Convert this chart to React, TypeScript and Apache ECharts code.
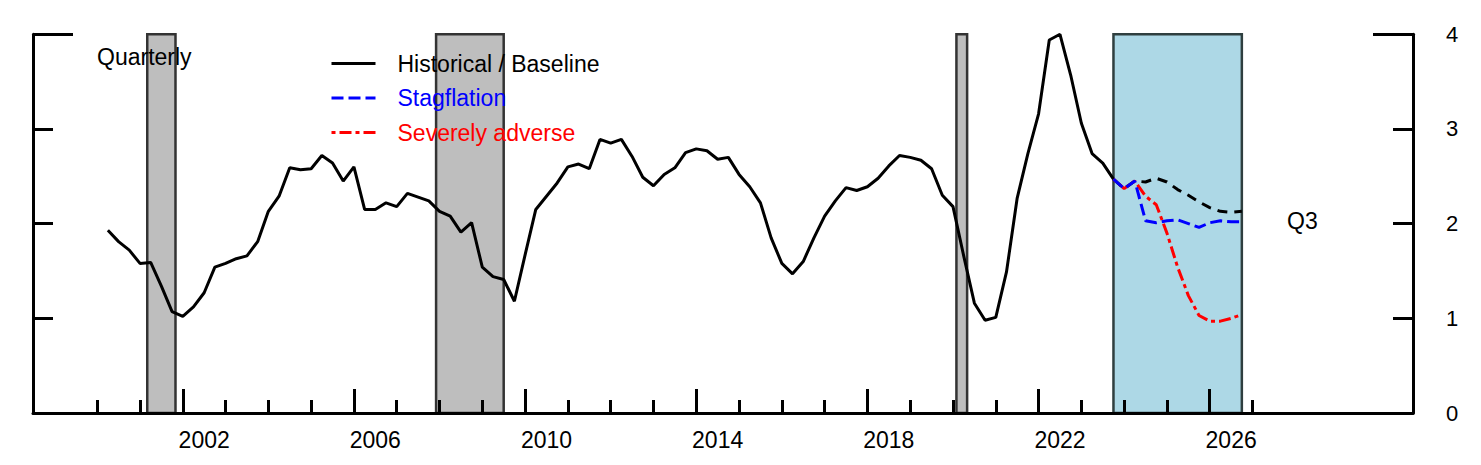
import React, { useEffect, useRef } from "react";
import * as echarts from "echarts";

// ---- Data ----
// Historical quarterly values, 2000Q1 .. 2023Q3 (plotted at quarter end)
const HIST_START_YEAR = 2000;
const histValues = [
  1.93, 1.81, 1.72, 1.58,
  1.59, 1.34, 1.07, 1.02,
  1.12, 1.27, 1.54, 1.58,
  1.63, 1.66, 1.81, 2.13,
  2.29, 2.59, 2.57, 2.58,
  2.72, 2.64, 2.45, 2.60,
  2.15, 2.15, 2.22, 2.18,
  2.32, 2.28, 2.24, 2.13,
  2.08, 1.91, 2.01, 1.54,
  1.44, 1.41, 1.18, 1.67,
  2.15, 2.29, 2.43, 2.60,
  2.63, 2.58, 2.89, 2.85,
  2.89, 2.71, 2.49, 2.40,
  2.52, 2.59, 2.75, 2.79,
  2.77, 2.68, 2.70, 2.52,
  2.39, 2.22, 1.85, 1.58,
  1.47, 1.60, 1.85, 2.08,
  2.24, 2.38, 2.35, 2.39,
  2.48, 2.61, 2.72, 2.70,
  2.67, 2.58, 2.30, 2.18,
  1.66, 1.16, 0.98, 1.01,
  1.49, 2.27, 2.74, 3.16,
  3.94, 4.00, 3.57, 3.06,
  2.74, 2.64, 2.47,
];

// Scenario paths, 2023Q3 .. 2026Q3
const SCEN_START_YEAR = 2023;
const SCEN_START_QUARTER = 3;
const baselineValues = [2.47, 2.37, 2.45, 2.44, 2.48, 2.44, 2.36, 2.30, 2.23, 2.17, 2.13, 2.12, 2.13];
const stagflationValues = [2.47, 2.37, 2.45, 2.03, 2.01, 2.03, 2.04, 2.00, 1.96, 2.01, 2.03, 2.02, 2.02];
const severeValues = [2.47, 2.37, 2.45, 2.29, 2.20, 1.90, 1.54, 1.24, 1.03, 0.97, 0.97, 1.00, 1.04];

// Shaded periods (decimal years)
const recessions = [
  [2001.17, 2001.83],
  [2007.92, 2009.5],
  [2020.08, 2020.33],
];
const projectionPeriod = [2023.75, 2026.75];

// Axes
const X_MIN = 1998.5;
const X_MAX = 2030.75;
const yearTicks = [2000, 2001, 2002, 2003, 2004, 2005, 2006, 2007, 2008, 2009, 2010, 2011, 2012, 2013, 2014, 2015, 2016, 2017, 2018, 2019, 2020, 2021, 2022, 2023, 2024, 2025, 2026, 2027];
const majorYearTicks = [2002, 2006, 2010, 2014, 2018, 2022, 2026];
const yearLabels = ["2002", "2006", "2010", "2014", "2018", "2022", "2026"];
const Y_MIN = 0;
const Y_MAX = 4;

const FONT = "'Liberation Sans', Arial, Helvetica, sans-serif";

function histData() {
  return histValues.map((v, i) => [HIST_START_YEAR + (i + 1) / 4, v]);
}
function scenData(vals: number[]) {
  return vals.map((v, i) => [SCEN_START_YEAR + (SCEN_START_QUARTER + i) / 4, v]);
}

export default function App() {
  const ref = useRef<HTMLDivElement>(null);
  useEffect(() => {
    if (!ref.current) return;
    const chart = echarts.init(ref.current, undefined, { renderer: "svg" });
    const gridBox = { left: 33, right: 68, top: 34.3, bottom: 52 };
    const axisLine = { show: true, onZero: false, lineStyle: { color: "#000", width: 3 } };
    const labelPositions = majorYearTicks.map((y) => y + 0.5);

    const option: any = {
      animation: false,
      backgroundColor: "#fff",
      grid: [
        { ...gridBox, containLabel: false },
        { ...gridBox, containLabel: false },
      ],
      xAxis: [
        {
          type: "value",
          gridIndex: 0,
          min: X_MIN,
          max: X_MAX,
          z: 5,
          axisLine,
          splitLine: { show: false },
          axisTick: {
            show: true,
            inside: true,
            length: 13,
            customValues: yearTicks,
            lineStyle: { color: "#000", width: 3 },
          },
          axisLabel: {
            show: true,
            customValues: labelPositions,
            formatter: (v: number) => yearLabels[labelPositions.indexOf(v)] ?? String(Math.floor(v)),
            color: "#000",
            fontSize: 23,
            fontFamily: FONT,
            margin: 15,
          },
        },
        {
          type: "value",
          gridIndex: 1,
          min: X_MIN,
          max: X_MAX,
          z: 5,
          axisLine: { show: false },
          splitLine: { show: false },
          axisTick: {
            show: true,
            inside: true,
            length: 24,
            customValues: majorYearTicks,
            lineStyle: { color: "#000", width: 3 },
          },
          axisLabel: { show: false },
        },
      ],
      yAxis: [
        {
          type: "value",
          gridIndex: 0,
          position: "left",
          min: Y_MIN,
          max: Y_MAX,
          interval: 1,
          z: 5,
          axisLine,
          splitLine: { show: false },
          axisTick: { show: true, inside: true, length: 20, lineStyle: { color: "#000", width: 3 } },
          axisLabel: { show: false },
        },
        {
          type: "value",
          gridIndex: 0,
          position: "right",
          min: Y_MIN,
          max: Y_MAX,
          interval: 1,
          z: 5,
          axisLine,
          splitLine: { show: false },
          axisTick: { show: true, inside: true, length: 20, lineStyle: { color: "#000", width: 3 } },
          axisLabel: { show: true, color: "#000", fontSize: 22, fontFamily: FONT, margin: 33 },
        },
        {
          type: "value",
          gridIndex: 1,
          position: "left",
          min: Y_MIN,
          max: Y_MAX,
          z: 5,
          axisLine: { show: false },
          splitLine: { show: false },
          axisTick: { show: true, inside: true, length: 40, customValues: [Y_MAX], lineStyle: { color: "#000", width: 3 } },
          axisLabel: { show: false },
        },
        {
          type: "value",
          gridIndex: 1,
          position: "right",
          min: Y_MIN,
          max: Y_MAX,
          z: 5,
          axisLine: { show: false },
          splitLine: { show: false },
          axisTick: { show: true, inside: true, length: 40, customValues: [Y_MAX], lineStyle: { color: "#000", width: 3 } },
          axisLabel: { show: false },
        },
      ],
      legend: {
        orient: "vertical",
        left: 330,
        top: 52,
        padding: 0,
        itemWidth: 44,
        itemHeight: 14,
        itemGap: 11.5,
        selectedMode: false,
        itemStyle: { opacity: 0, borderWidth: 0 },
        lineStyle: { width: 3 },
        textStyle: { fontSize: 23, fontFamily: FONT, lineHeight: 22, padding: [0, 0, 0, 17] },
        data: [
          { name: "Historical / Baseline", textStyle: { color: "#000" } },
          { name: "Stagflation", textStyle: { color: "#0000FF" } },
          { name: "Severely adverse", textStyle: { color: "#FF0000" } },
        ],
      },
      graphic: [
        {
          type: "text",
          z: 100,
          x: 97,
          y: 57,
          style: { text: "Quarterly", fontSize: 23, fontFamily: FONT, fill: "#000", verticalAlign: "middle" },
        },
        {
          type: "text",
          z: 100,
          x: 1287,
          y: 221,
          style: { text: "Q3", fontSize: 23, fontFamily: FONT, fill: "#000", verticalAlign: "middle" },
        },
      ],
      series: [
        {
          name: "Historical / Baseline",
          type: "line",
          xAxisIndex: 0,
          yAxisIndex: 0,
          data: histData(),
          symbol: "none",
          z: 3,
          lineStyle: { color: "#000", width: 3 },
          itemStyle: { color: "#000" },
          markArea: {
            silent: true,
            z: 1,
            data: [
              ...recessions.map(([a, b]) => [
                { xAxis: a, itemStyle: { color: "#BEBEBE", borderColor: "#333333", borderWidth: 2.5 } },
                { xAxis: b },
              ]),
              [
                { xAxis: projectionPeriod[0], itemStyle: { color: "#ADD8E6", borderColor: "#2F3F3F", borderWidth: 2.5 } },
                { xAxis: projectionPeriod[1] },
              ],
            ],
          },
        },
        {
          name: "Baseline",
          type: "line",
          xAxisIndex: 0,
          yAxisIndex: 0,
          data: scenData(baselineValues),
          symbol: "none",
          z: 3,
          lineStyle: { color: "#000", width: 3, type: [10, 7] },
          itemStyle: { color: "#000" },
        },
        {
          name: "Severely adverse",
          type: "line",
          xAxisIndex: 0,
          yAxisIndex: 0,
          data: scenData(severeValues),
          symbol: "none",
          z: 4,
          lineStyle: { color: "#FF0000", width: 3, type: [4, 4, 12, 4] },
          itemStyle: { color: "#FF0000" },
        },
        {
          name: "Stagflation",
          type: "line",
          xAxisIndex: 0,
          yAxisIndex: 0,
          data: scenData(stagflationValues),
          symbol: "none",
          z: 4,
          lineStyle: { color: "#0000FF", width: 3, type: [12, 5] },
          itemStyle: { color: "#0000FF" },
        },
      ],
    };
    chart.setOption(option);
    return () => chart.dispose();
  }, []);
  return (
    <div
      ref={ref}
      style={{ position: "absolute", left: 0, top: 0, width: 1481, height: 465, background: "#fff" }}
    />
  );
}
